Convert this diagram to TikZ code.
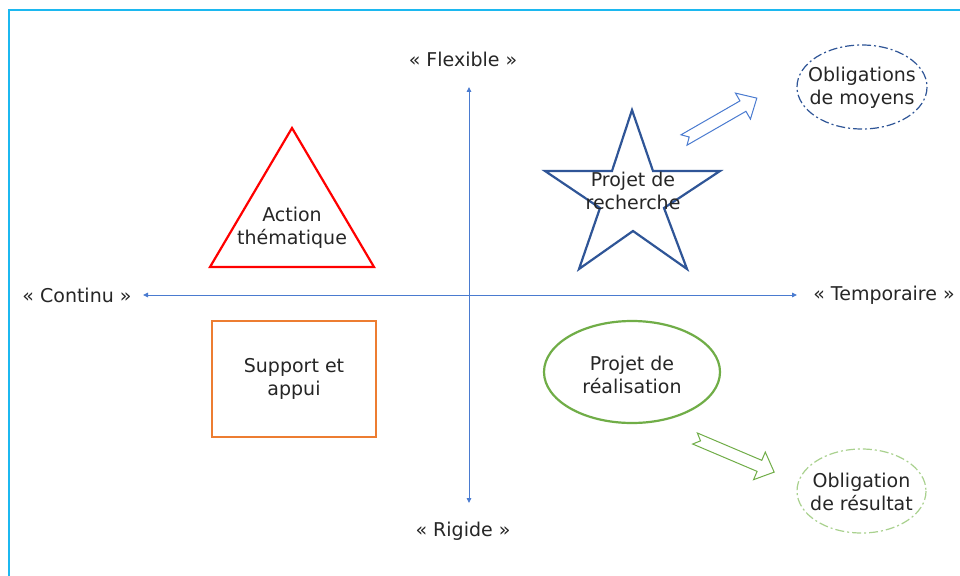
\documentclass[tikz,border=0pt]{standalone}
\usepackage{fontspec}
\setmainfont{DejaVu Sans}
\usetikzlibrary{arrows.meta,shapes.geometric}
\definecolor{frameblue}{HTML}{1CB8F0}
\definecolor{axisblue}{HTML}{4A7BD0}
\definecolor{darkblue}{HTML}{2F5597}
\definecolor{pptred}{HTML}{FF0000}
\definecolor{pptorange}{HTML}{ED7D31}
\definecolor{pptgreen}{HTML}{70AD47}
\definecolor{lightgreen}{HTML}{A9D18E}
\definecolor{txt}{HTML}{262626}
\newcommand{\blkarrow}[5]{%
  \draw[#1, line width=1pt, line join=miter, shift={(#2)}, rotate=#3]
    (0,-6) -- (#4-#5,-6) -- (#4-#5,-15) -- (#4,0) -- (#4-#5,15) -- (#4-#5,6) -- (0,6) -- (6,0) -- cycle;}
\begin{document}
\begin{tikzpicture}[x=1pt,y=-1pt,
  every node/.style={font=\fontsize{19}{22.5}\selectfont, text=txt, align=center},
  axis/.style={axisblue, line width=0.9pt, {Triangle[length=5pt,width=4.5pt]}-{Triangle[length=5pt,width=4.5pt]}},
  dashdot/.style={line width=1.2pt, dash pattern=on 9pt off 3pt on 2pt off 3pt}]
\useasboundingbox (0,0) rectangle (960,575);
\clip (0,0) rectangle (960,575);
\fill[white] (0,0) rectangle (960,575);
\draw[frameblue, line width=2pt] (9,10) rectangle (980,600);

% axes
\coordinate (L) at (143,295);
\coordinate (R) at (797,295);
\coordinate (T) at (469,87);
\coordinate (B) at (469,503);
\draw[axis] (L) -- (R);
\draw[axis] (T) -- (B);
\node (flex) at (463,59) {« Flexible »};
\node (rig) at (463,531) {« Rigide »};
\node (cont) at (77,295) {« Continu »};
\node (temp) at (884,295) {« Temporaire »};

% triangle
\draw[pptred, line width=2.2pt, line join=miter] (292,128) -- (374,267) -- (210,267) -- cycle;
\node (act) at (292,228) {Action\\thématique};

% rectangle
\node[draw=pptorange, line width=2pt, minimum width=164pt, minimum height=116pt] (sup) at (294,379) {Support et\\appui};

% star
\draw[darkblue, line width=2.2pt, line join=miter]
  (632,110) -- (653,171) -- (720,171) -- (664,208) -- (687,269) -- (633,231)
  -- (579,269) -- (600,208) -- (545,171) -- (612,171) -- cycle;
\node (rech) at (633,191) {Projet de\\recherche};

% green ellipse
\coordinate (realc) at (632,372);
\draw[pptgreen, line width=2.2pt] (realc) ellipse [x radius=88, y radius=51];
\node (real) at (632,375) {Projet de\\réalisation};

% dashed ellipses
\coordinate (moyc) at (862,87);
\draw[darkblue, dashdot] (moyc) ellipse [x radius=65, y radius=42];
\node (moy) at (862,88) {Obligations\\de moyens};
\coordinate (resc) at (861.5,491);
\draw[lightgreen, dashdot] (resc) ellipse [x radius=64.5, y radius=42];
\node (res) at (861.5,492) {Obligation\\de résultat};

% block arrows
\blkarrow{axisblue}{684,140}{29.9}{84}{16}
\blkarrow{pptgreen}{695,438.5}{-23}{86}{16}
\end{tikzpicture}
\end{document}
